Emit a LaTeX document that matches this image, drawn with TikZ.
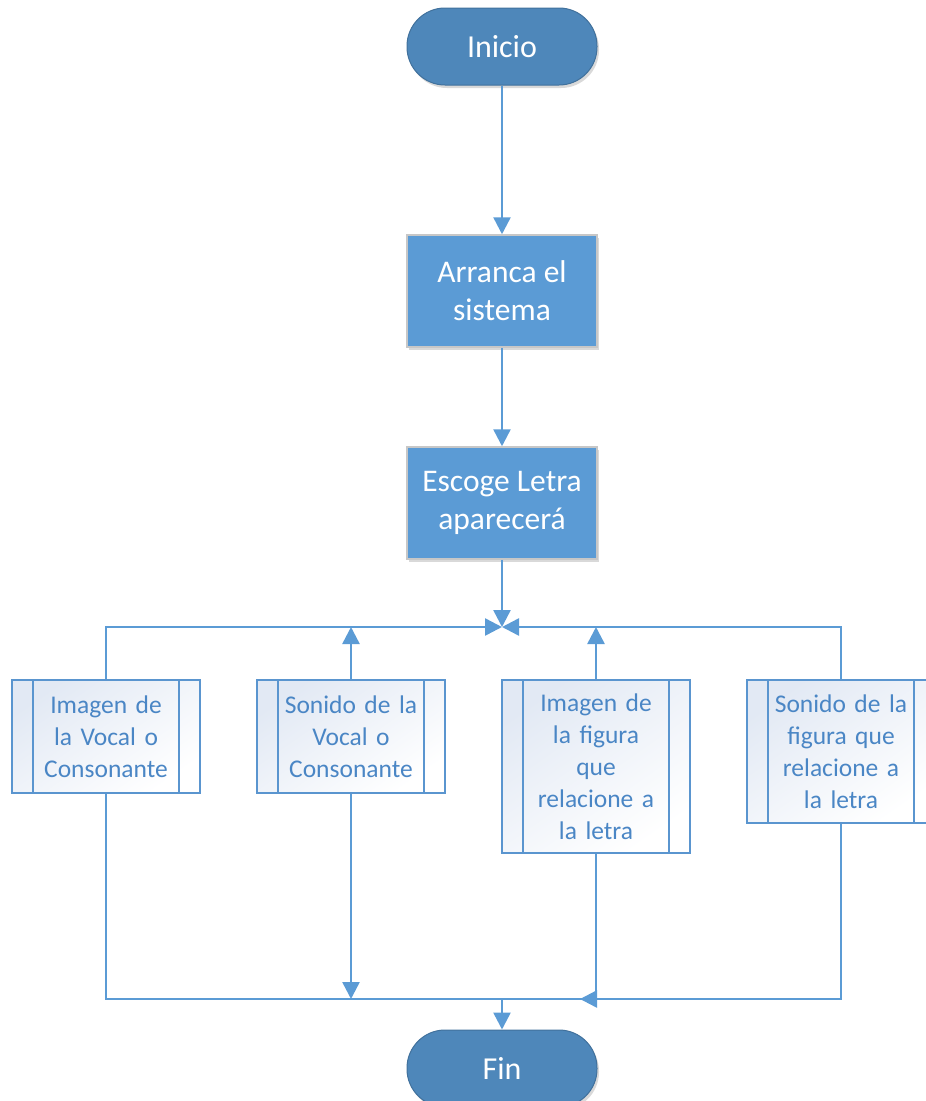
\documentclass[tikz,border=0pt]{standalone}
\usepackage{fontspec}
\setmainfont{Carlito}
\usetikzlibrary{arrows.meta,shadows}
\definecolor{lineblue}{HTML}{5B9BD5}
\definecolor{termfill}{HTML}{4E87BA}
\definecolor{termdraw}{HTML}{41719C}
\definecolor{procfill}{HTML}{5B9BD5}
\definecolor{subtext}{HTML}{4A86C5}
\definecolor{subdraw}{HTML}{5A95CF}
\definecolor{subfill}{HTML}{E2E9F4}
\begin{document}
\begin{tikzpicture}[x=1pt,y=-1pt,
  term/.style={rectangle, rounded corners=38pt, minimum width=190pt, minimum height=77pt,
    fill=termfill, draw=termdraw, line width=1pt, text=white, inner sep=0pt,
    font=\fontsize{32}{38}\selectfont,
    drop shadow={shadow xshift=2pt, shadow yshift=-3pt, opacity=0.15, fill=black}},
  proc/.style={rectangle, minimum width=190pt, minimum height=112pt, fill=procfill,
    draw=black!22, line width=1.5pt, text=white, align=center, inner sep=0pt,
    font=\fontsize{31.5}{38}\selectfont,
    drop shadow={shadow xshift=2pt, shadow yshift=-3pt, opacity=0.15, fill=black}},
  subp/.style={rectangle, minimum width=188pt, draw=subdraw, line width=2pt, text=subtext,
    align=center, text width=150pt, inner sep=0pt, font=\fontsize{25.5}{32}\selectfont,
    top color=subfill, bottom color=white, shading angle=35},
  conn/.style={draw=lineblue, line width=2.5pt},
  arr/.style={conn, -{Triangle[length=17pt,width=17pt]}}]
\useasboundingbox (0,0) rectangle (926,1101);
\clip (0,0) rectangle (926,1101);

\node[term] (ini) at (502,46.5) {Inicio};
\node[proc] (arr) at (502,291) {Arranca el\\sistema};
\node[proc] (esc) at (502,503) {Escoge Letra\\aparecerá};

\node[subp, minimum height=113pt] (b1) at (106,736.5) {Imagen de\\la Vocal o\\Consonante};
\node[subp, minimum height=113pt] (b2) at (351,736.5) {Sonido de la\\Vocal o\\Consonante};
\node[subp, minimum height=173pt] (b3) at (596,766.5) {Imagen de\\la figura\\que\\relacione a\\la letra};
\node[subp, minimum height=143pt] (b4) at (841,751.5) {Sonido de la\\figura que\\relacione a\\la letra};

\foreach \b in {b1,b2,b3,b4}{
  \draw[subdraw, line width=2pt] ([xshift=22pt]\b.north west) -- ([xshift=22pt]\b.south west);
  \draw[subdraw, line width=2pt] ([xshift=-22pt]\b.north east) -- ([xshift=-22pt]\b.south east);
}

\node[term] (fin) at (502,1068.5) {Fin};

\coordinate (jt) at (502,627);
\coordinate (jb) at (502,999);

\draw[arr] (ini) -- (arr);
\draw[arr] (arr) -- (esc);
\draw[arr] (esc) -- (jt);
\draw[arr] (b1.north) |- (jt);
\draw[arr] (b4.north) |- (jt);
\draw[arr] (b2.north) -- (b2.north |- jt);
\draw[arr] (b3.north) -- (b3.north |- jt);

\draw[conn] (b1.south) |- (b3.south |- jb);
\draw[arr] (b2.south) -- (b2.south |- jb);
\draw[conn] (b3.south) -- (b3.south |- jb);
\draw[arr] (b4.south) |- ([xshift=-16pt]b3.south |- jb);
\draw[arr] (jb) -- (fin);
\end{tikzpicture}
\end{document}
